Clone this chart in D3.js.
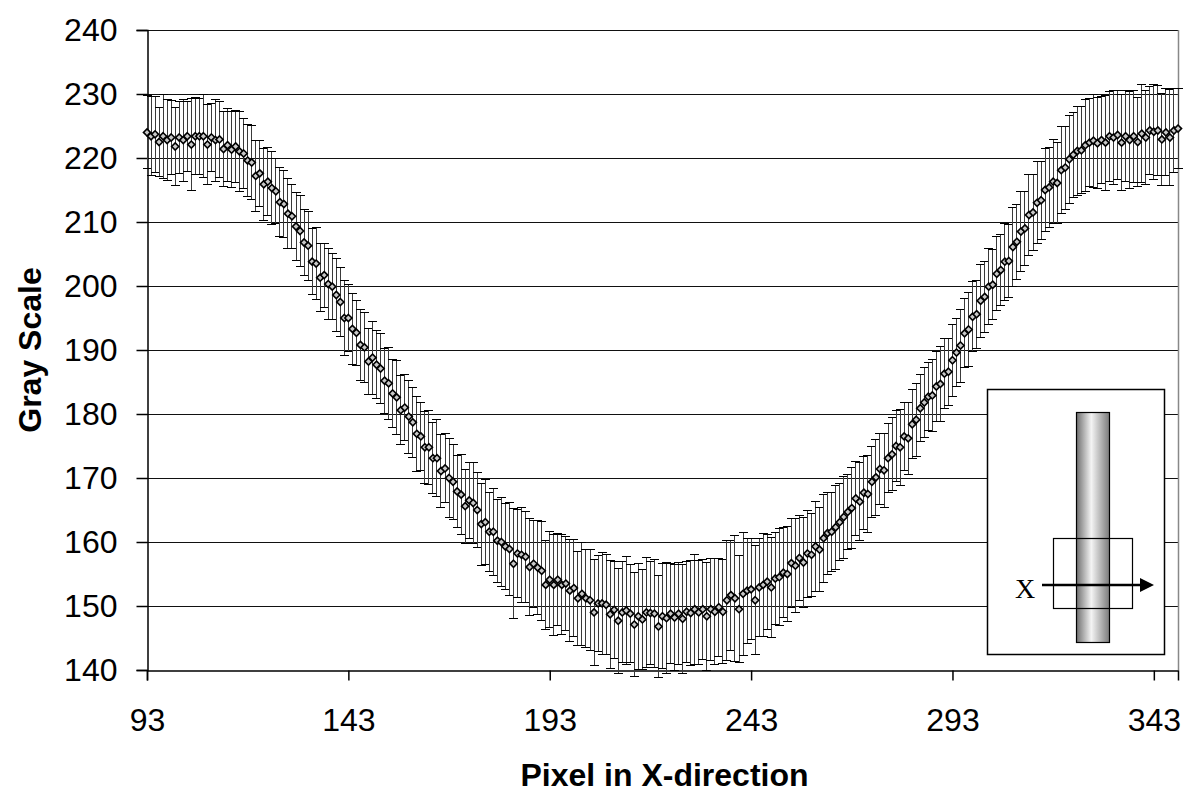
<!DOCTYPE html>
<html>
<head>
<meta charset="utf-8">
<script src="https://cdn.jsdelivr.net/npm/d3@7"></script>
<style>
  body { margin: 0; background: #fff; }
  text { font-family: Arial, "Liberation Sans", sans-serif; }
</style>
</head>
<body>
<div id="viz"></div>
<script>
const width = 1191;
const height = 804;
const margins = { left: 147, right: 13, top: 30, bottom: 134 };
const visWidth = width - margins.left - margins.right;
const visHeight = height - margins.top - margins.bottom;

// pixel positions along the profile (one per column)
const pixelStart = 93;
const pixelEnd = 349;
const xTicks = [93, 143, 193, 243, 293, 343];
const yTicks = [140, 150, 160, 170, 180, 190, 200, 210, 220, 230, 240];

// mean gray value per column
const grayMean = [
    224.0, 223.4, 223.7, 222.5, 223.4, 222.8, 223.2, 221.8, 223.2, 222.8,
    223.4, 222.1, 223.4, 223.4, 223.4, 222.1, 223.2, 222.8, 222.9, 221.4,
    222.0, 221.3, 221.8, 221.0, 220.7, 219.6, 219.3, 217.2, 217.6, 215.9,
    216.3, 215.3, 214.8, 213.1, 212.8, 211.3, 210.9, 209.3, 208.6, 206.8,
    206.3, 203.8, 203.5, 201.3, 201.7, 200.3, 199.9, 198.6, 197.5, 195.0,
    195.0, 193.3, 192.7, 190.8, 190.4, 188.2, 188.8, 187.7, 187.1, 185.2,
    184.8, 183.2, 182.6, 180.6, 181.0, 179.6, 178.7, 176.9, 176.5, 174.8,
    174.8, 173.1, 173.1, 171.1, 171.5, 170.0, 169.4, 167.9, 167.4, 165.6,
    166.5, 166.1, 165.0, 162.8, 163.1, 161.6, 161.6, 160.2, 160.0, 159.3,
    158.9, 156.6, 158.2, 158.0, 157.7, 156.1, 156.6, 156.0, 155.5, 153.3,
    154.1, 153.3, 154.1, 153.3, 153.5, 152.4, 152.8, 151.2, 151.9, 151.2,
    150.9, 149.0, 150.4, 150.4, 150.2, 148.7, 149.4, 147.7, 149.0, 149.3,
    148.8, 147.1, 148.4, 147.9, 149.0, 148.9, 148.8, 146.8, 148.4, 148.1,
    148.8, 148.2, 148.8, 148.0, 149.1, 148.9, 149.5, 149.0, 149.5, 148.4,
    149.5, 149.1, 149.8, 149.1, 150.9, 151.7, 151.2, 149.5, 151.9, 152.4,
    152.6, 150.9, 152.9, 153.3, 153.8, 152.9, 154.3, 154.5, 155.2, 155.0,
    156.7, 156.3, 157.5, 156.8, 158.2, 158.0, 159.3, 158.8, 160.6, 161.4,
    161.6, 162.3, 163.1, 163.9, 164.7, 165.3, 166.8, 166.3, 167.7, 167.5,
    169.4, 170.1, 171.4, 171.2, 173.1, 173.7, 175.0, 174.8, 176.5, 176.2,
    178.4, 179.1, 180.9, 181.8, 182.7, 182.9, 184.3, 184.7, 186.3, 186.6,
    188.4, 189.6, 190.7, 192.6, 193.2, 195.2, 195.6, 197.7, 198.3, 199.9,
    200.2, 201.9, 202.5, 203.8, 203.9, 206.1, 206.9, 208.5, 209.0, 211.1,
    211.5, 213.0, 213.4, 215.0, 215.4, 216.3, 216.1, 218.1, 218.5, 219.8,
    220.5, 221.1, 221.2, 222.0, 222.4, 222.7, 222.3, 222.8, 222.4, 223.4,
    223.2, 223.6, 222.4, 223.4, 222.8, 223.4, 222.5, 223.8, 223.2, 224.3,
    224.1, 224.3, 222.9, 224.0, 223.2, 224.3, 224.6
];

// standard deviation (error bar half-length) per column
const graySd = [
    5.7, 6.2, 5.9, 5.4, 6.6, 6.3, 5.8, 6.1, 5.6, 6.4,
    5.5, 7.2, 6.0, 5.9, 6.5, 6.2, 5.3, 6.4, 6.0, 5.8,
    5.7, 5.9, 5.6, 6.2, 5.4, 5.6, 5.8, 5.5, 5.2, 5.6,
    5.3, 5.7, 5.1, 5.4, 5.2, 5.5, 5.0, 5.3, 5.6, 5.1,
    5.4, 5.2, 5.6, 5.3, 5.0, 5.5, 5.2, 5.7, 5.4, 5.8,
    5.3, 5.5, 5.1, 5.6, 5.4, 5.2, 5.7, 5.3, 5.5, 5.1,
    5.6, 5.3, 5.8, 5.4, 5.2, 5.7, 5.5, 5.9, 5.3, 5.6,
    5.8, 5.5, 6.0, 5.7, 5.4, 6.1, 5.9, 5.6, 6.2, 5.8,
    6.0, 6.3, 5.9, 6.4, 6.6, 6.2, 6.8, 6.5, 7.0, 6.7,
    7.2, 8.6, 6.9, 7.4, 7.1, 7.6, 6.8, 7.3, 7.7, 7.0,
    7.5, 7.9, 7.2, 7.8, 7.4, 8.0, 7.6, 7.3, 8.1, 7.7,
    7.9, 8.3, 7.5, 8.0, 7.8, 8.4, 7.6, 8.2, 7.9, 8.5,
    7.7, 8.1, 8.3, 7.8, 8.6, 8.0, 8.4, 7.9, 8.2, 8.7,
    7.8, 8.3, 8.0, 8.5, 7.9, 8.2, 8.6, 8.1, 7.8, 8.4,
    8.0, 8.3, 7.7, 8.1, 9.4, 8.6, 9.8, 8.4, 9.6, 8.2,
    7.9, 8.5, 7.6, 8.0, 7.4, 7.8, 7.2, 7.6, 7.0, 7.4,
    6.9, 7.3, 6.7, 7.1, 6.8, 6.5, 7.0, 6.6, 6.9, 6.4,
    6.2, 6.6, 6.0, 6.4, 5.9, 6.3, 5.8, 6.1, 5.7, 6.0,
    5.6, 5.9, 5.5, 5.8, 5.4, 5.7, 5.5, 5.9, 5.3, 5.6,
    5.4, 5.7, 5.2, 5.5, 5.3, 5.6, 5.4, 5.8, 5.5, 5.2,
    5.6, 5.3, 5.7, 5.4, 5.8, 5.5, 5.3, 5.7, 5.6, 5.9,
    5.5, 5.8, 5.6, 6.0, 5.7, 6.1, 5.9, 6.2, 5.8, 6.3,
    6.0, 6.4, 6.1, 6.5, 6.2, 6.6, 6.4, 6.8, 6.5, 6.9,
    6.6, 7.0, 6.8, 7.2, 6.9, 7.3, 7.1, 6.8, 7.4, 7.0,
    7.3, 6.9, 7.5, 7.1, 7.6, 7.2, 7.0, 7.7, 7.3, 6.9,
    7.4, 7.0, 7.2, 6.8, 7.5, 6.6, 6.3
];

const points = grayMean.map((m, i) => ({ px: pixelStart + i, mean: m, sd: graySd[i] }));

const svg = d3.select('#viz')
    .append("svg")
    .attr('width', width)
    .attr('height', height)
    .append("g")
    .attr("transform", `translate(${margins.left}, ${margins.top})`);

const xScale = d3.scaleLinear()
    .domain([pixelStart, pixelEnd])
    .range([0, visWidth]);

const yScale = d3.scaleLinear()
    .domain([140, 240])
    .range([visHeight, 0]);

// horizontal gridlines
svg.append("g")
    .selectAll("line")
    .data(yTicks.slice(1))
    .enter()
    .append("line")
    .attr("x1", 0)
    .attr("x2", visWidth)
    .attr("y1", d => Math.round(yScale(d)) + 0.5)
    .attr("y2", d => Math.round(yScale(d)) + 0.5)
    .attr("stroke", "#111")
    .attr("stroke-width", 1);

// right border
svg.append("line")
    .attr("x1", visWidth + 0.5).attr("x2", visWidth + 0.5)
    .attr("y1", 0).attr("y2", visHeight)
    .attr("stroke", "#888")
    .attr("stroke-width", 1.5);

// axes
const yAxis = svg.append("g")
    .attr("transform", "translate(0.5,0)")
    .call(d3.axisLeft(yScale).tickValues(yTicks).tickSize(11).tickPadding(19));
yAxis.selectAll("text")
    .attr("font-size", 32)
    .attr("fill", "#000");

const xAxis = svg.append("g")
    .attr("transform", `translate(0, ${visHeight + 0.5})`)
    .call(d3.axisBottom(xScale).tickValues(xTicks).tickSize(10).tickPadding(28));
xAxis.selectAll("text")
    .attr("font-size", 32)
    .attr("fill", "#000");

[yAxis, xAxis].forEach(a => {
    a.select(".domain").attr("stroke", "#000").attr("stroke-width", 1.5);
    a.selectAll(".tick line").attr("stroke", "#000").attr("stroke-width", 1.5);
});

// error bars
const capW = 4.5;
const bars = svg.append("g")
    .attr("style", "shape-rendering: crispEdges")
    .selectAll("g")
    .data(points)
    .enter()
    .append("g");

bars.append("line")
    .attr("x1", d => xScale(d.px)).attr("x2", d => xScale(d.px))
    .attr("y1", d => yScale(d.mean + d.sd))
    .attr("y2", d => yScale(d.mean - d.sd))
    .attr("stroke", "#3a3a3a")
    .attr("stroke-width", 1);

bars.append("line")
    .attr("x1", d => xScale(d.px) - capW).attr("x2", d => xScale(d.px) + capW)
    .attr("y1", d => yScale(d.mean + d.sd)).attr("y2", d => yScale(d.mean + d.sd))
    .attr("stroke", "#000")
    .attr("stroke-width", 1);

bars.append("line")
    .attr("x1", d => xScale(d.px) - capW).attr("x2", d => xScale(d.px) + capW)
    .attr("y1", d => yScale(d.mean - d.sd)).attr("y2", d => yScale(d.mean - d.sd))
    .attr("stroke", "#000")
    .attr("stroke-width", 1);

// diamond markers
svg.append("g")
    .selectAll("path")
    .data(points)
    .enter()
    .append("path")
    .attr("transform", d => `translate(${xScale(d.px)}, ${yScale(d.mean)})`)
    .attr("d", d3.symbol(d3.symbolDiamond2, 32))
    .attr("fill", "#c8c8c8")
    .attr("stroke", "#000")
    .attr("stroke-width", 1.6);

// axis titles
svg.append("text")
    .attr("x", visWidth / 2 + 2)
    .attr("y", visHeight + 116)
    .attr("text-anchor", "middle")
    .attr("font-size", 32)
    .attr("font-weight", "bold")
    .text("Pixel in X-direction");

svg.append("text")
    .attr("transform", `translate(${-106}, ${visHeight / 2}) rotate(-90)`)
    .attr("text-anchor", "middle")
    .attr("font-size", 32)
    .attr("font-weight", "bold")
    .text("Gray Scale");

// inset sketch (absolute page coords)
const inset = d3.select("svg").append("g");

const grad = d3.select("svg").append("defs")
    .append("linearGradient")
    .attr("id", "rod")
    .attr("x1", "0%").attr("x2", "100%");
grad.append("stop").attr("offset", "0%").attr("stop-color", "#6e6e6e");
grad.append("stop").attr("offset", "45%").attr("stop-color", "#f4f4f4");
grad.append("stop").attr("offset", "100%").attr("stop-color", "#7a7a7a");

inset.append("rect")
    .attr("x", 987.5).attr("y", 389.5)
    .attr("width", 177).attr("height", 265)
    .attr("fill", "#fff")
    .attr("stroke", "#000")
    .attr("stroke-width", 1.5);

inset.append("rect")
    .attr("x", 1076.5).attr("y", 412.5)
    .attr("width", 33).attr("height", 230)
    .attr("fill", "url(#rod)")
    .attr("stroke", "#000")
    .attr("stroke-width", 1.2);

inset.append("rect")
    .attr("x", 1053.5).attr("y", 538.5)
    .attr("width", 79).attr("height", 70)
    .attr("fill", "none")
    .attr("stroke", "#000")
    .attr("stroke-width", 1.2);

inset.append("line")
    .attr("x1", 1042).attr("x2", 1142)
    .attr("y1", 585).attr("y2", 585)
    .attr("stroke", "#000")
    .attr("stroke-width", 2.5);

inset.append("path")
    .attr("d", "M1140,578 L1154,585 L1140,592 Z")
    .attr("fill", "#000");

inset.append("text")
    .attr("x", 1025).attr("y", 598)
    .attr("text-anchor", "middle")
    .style("font-family", "'Liberation Serif', 'DejaVu Serif', serif")
    .attr("font-size", 28)
    .text("X");
</script>
</body>
</html>
